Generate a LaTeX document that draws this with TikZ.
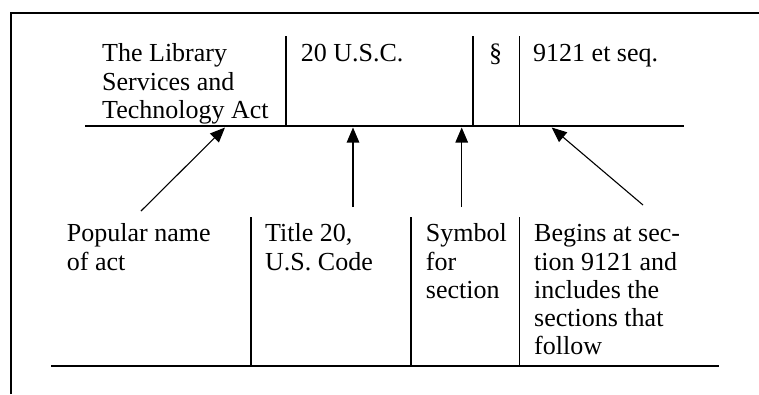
\documentclass[tikz,border=0pt]{standalone}
\usepackage{fontspec}
\setmainfont{Liberation Serif}
\usetikzlibrary{arrows.meta}
\begin{document}
\begin{tikzpicture}[x=1pt,y=-1pt,
  txt/.style={anchor=base west, align=left, inner sep=0pt, font=\fontsize{26}{28.3}\selectfont},
  rulel/.style={line width=1.6pt},
  framel/.style={line width=2pt},
  arr/.style={line width=1.1pt, -{Triangle[length=15pt,width=12.5pt]}}]
\useasboundingbox (0,0) rectangle (759,394);
% frame
\coordinate (fb) at (10.5,394);
\coordinate (fc) at (10.5,13);
\coordinate (fr) at (759,13);
\draw[framel] (fb) -- (fc) -- (fr);
% top table
\coordinate (tl) at (85,126);
\coordinate (tr) at (684,126);
\draw[rulel] (tl) -- (tr);
\coordinate (v1t) at (286,36);  \coordinate (v1b) at (286,126);
\coordinate (v2t) at (472.7,36); \coordinate (v2b) at (472.7,126);
\coordinate (v3t) at (519.3,36); \coordinate (v3b) at (519.3,126);
\draw[rulel] (v1t) -- (v1b);
\draw[rulel] (v2t) -- (v2b);
\draw[rulel] (v3t) -- (v3b);
% multi-line nodes: base anchor is the baseline of the last line
\node[txt] (act) at (102,118.3) {The Library\\Services and\\Technology Act};
\node[txt] (usc) at (300.7,61.7) {20 U.S.C.};
\node[txt] (sec) at (489,61.7) {§};
\node[txt] (num) at (533,61.7) {9121 et seq.};
% bottom table
\coordinate (bl) at (51,366);
\coordinate (br) at (719,366);
\draw[rulel] (bl) -- (br);
\coordinate (w1t) at (250.7,217); \coordinate (w1b) at (250.7,366);
\coordinate (w2t) at (411,217);   \coordinate (w2b) at (411,366);
\coordinate (w3t) at (519.3,217); \coordinate (w3b) at (519.3,366);
\draw[rulel] (w1t) -- (w1b);
\draw[rulel] (w2t) -- (w2b);
\draw[rulel] (w3t) -- (w3b);
\node[txt] (pop) at (66.7,270) {Popular name\\of act};
\node[txt] (tit) at (265,270) {Title 20,\\U.S. Code};
\node[txt] (sym) at (425.7,298.3) {Symbol\\for\\section};
\node[txt] (beg) at (534,354.9) {Begins at sec-\\tion 9121 and\\includes the\\sections that\\follow};
% arrows
\coordinate (a1s) at (141,211); \coordinate (a1e) at (225,127.5);
\coordinate (a2s) at (353,207); \coordinate (a2e) at (353,127.5);
\coordinate (a3s) at (461.7,207); \coordinate (a3e) at (461.7,127.5);
\coordinate (a4s) at (643,205); \coordinate (a4e) at (551.7,127.5);
\draw[arr] (a1s) -- (a1e);
\draw[arr] (a2s) -- (a2e);
\draw[arr] (a3s) -- (a3e);
\draw[arr] (a4s) -- (a4e);
\end{tikzpicture}
\end{document}
